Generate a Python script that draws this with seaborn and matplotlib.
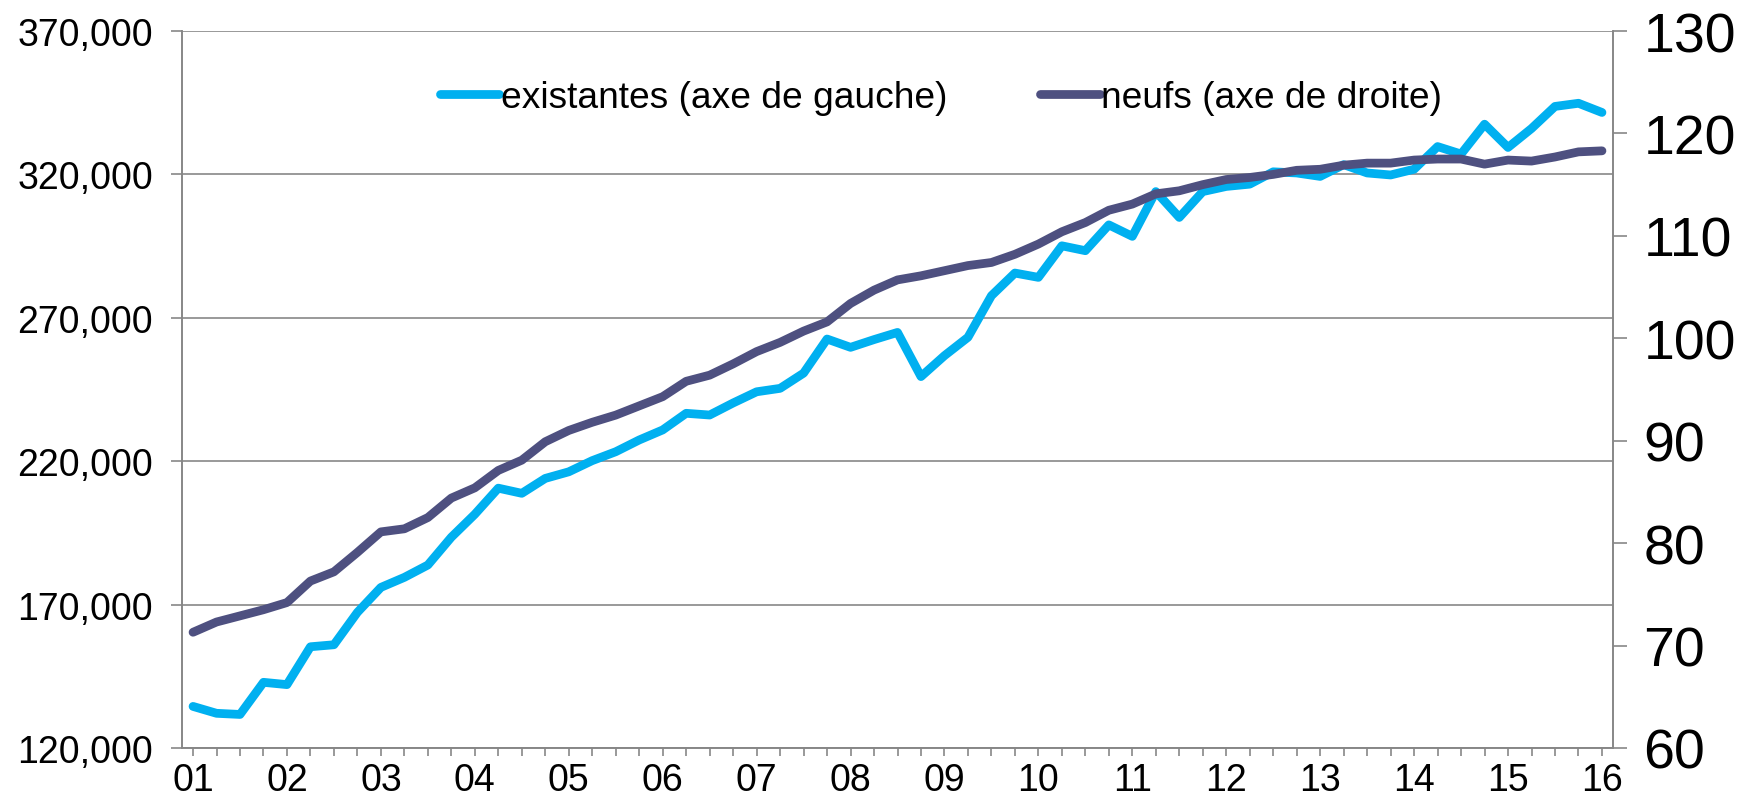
import pandas as pd
import numpy as np
import matplotlib
matplotlib.use("Agg")
import matplotlib.pyplot as plt
import seaborn as sns
from matplotlib.ticker import FuncFormatter

# quarterly series, 2001 Q1 -> 2016 Q1
existantes = [134.5, 132.1, 131.7, 142.9, 142.1, 155.3, 156.0, 167.3, 176.0, 179.5,
              183.8, 193.5, 201.5, 210.6, 208.8, 214.0, 216.3, 220.2, 223.3, 227.4,
              230.9, 236.7, 236.1, 240.3, 244.2, 245.4, 250.7, 262.6, 259.7, 262.4,
              264.9, 249.5, 256.8, 263.2, 277.7, 285.6, 284.1, 295.1, 293.4, 302.4,
              298.4, 314.0, 305.0, 314.0, 315.8, 316.6, 320.9, 320.5, 319.3, 323.4,
              320.5, 319.8, 321.8, 329.7, 327.1, 337.5, 329.4, 336.0, 343.7, 344.8,
              341.6]
existantes = [v * 1000 for v in existantes]

neufs = [71.3, 72.3, 72.9, 73.5, 74.2, 76.3, 77.2, 79.1, 81.1, 81.4,
         82.5, 84.4, 85.4, 87.1, 88.1, 89.9, 91.0, 91.8, 92.5, 93.4,
         94.3, 95.8, 96.4, 97.5, 98.7, 99.6, 100.7, 101.6, 103.4, 104.7,
         105.7, 106.1, 106.6, 107.1, 107.4, 108.2, 109.2, 110.4, 111.3, 112.5,
         113.1, 114.1, 114.4, 115.0, 115.5, 115.7, 116.0, 116.4, 116.5, 116.9,
         117.1, 117.1, 117.4, 117.5, 117.5, 117.0, 117.4, 117.3, 117.7, 118.2,
         118.3]

years = ["01", "02", "03", "04", "05", "06", "07", "08",
         "09", "10", "11", "12", "13", "14", "15", "16"]

left_ticks = [120000, 170000, 220000, 270000, 320000, 370000]
right_ticks = [60, 70, 80, 90, 100, 110, 120, 130]

df = pd.DataFrame({"q": np.arange(len(existantes)),
                   "existantes": existantes,
                   "neufs": neufs})

sns.set_style("white")
plt.rcParams["font.family"] = ["Liberation Sans", "DejaVu Sans"]
plt.rcParams["text.color"] = "black"
plt.rcParams["xtick.color"] = "black"
plt.rcParams["ytick.color"] = "black"

blue = "#00B0F0"
navy = "#4E5080"
gray = "#878787"

fig = plt.figure(figsize=(17.39, 8.03), dpi=100)
ax = fig.add_axes([182/1739, 1 - 749/803, (1613-182)/1739, (749-32)/803])
ax2 = ax.twinx()

sns.lineplot(data=df, x="q", y="existantes", ax=ax, color=blue, linewidth=6.3,
             label="existantes (axe de gauche)", legend=False)
sns.lineplot(data=df, x="q", y="neufs", ax=ax2, color=navy, linewidth=6.3,
             label="neufs (axe de droite)", legend=False)

ax.set_xlim(-0.47, len(existantes) - 1 + 0.47)
ax.set_ylim(120000, 370000)
ax2.set_ylim(60, 130)

ax.set_yticks(left_ticks)
ax.yaxis.set_major_formatter(FuncFormatter(lambda v, p: f"{int(v):,}"))
ax2.set_yticks(right_ticks)

xt = np.arange(len(existantes))
xl = [years[i // 4] if i % 4 == 0 else "" for i in xt]
ax.set_xticks(xt)
ax.set_xticklabels(xl)

ax.set_xlabel("")
ax.set_ylabel("")
ax2.set_xlabel("")
ax2.set_ylabel("")

ax.grid(axis="y", color=gray, linewidth=1.2)
ax.grid(axis="x", visible=False)
ax2.grid(False)

for a in (ax, ax2):
    a.spines["top"].set_visible(False)
    for s in ("left", "right", "bottom"):
        a.spines[s].set_color(gray)
        a.spines[s].set_linewidth(1.2)

ax.tick_params(axis="y", direction="out", length=8, width=1.2, color=gray,
               labelcolor="black", labelsize=27, pad=13, left=True)
ax.tick_params(axis="x", direction="out", length=6, width=1.2, color=gray,
               labelcolor="black", labelsize=27, pad=4, bottom=True)
ax2.tick_params(axis="y", direction="out", length=10, width=1.2, color=gray,
                labelcolor="black", labelsize=40, pad=12, right=True)

h1, l1 = ax.get_legend_handles_labels()
h2, l2 = ax2.get_legend_handles_labels()
leg = ax2.legend(h1 + h2, l1 + l2, loc="center left",
                 bbox_to_anchor=(440/1739, 1 - 98/803), bbox_transform=fig.transFigure,
                 ncol=2, frameon=False, fontsize=26.7, handlelength=1.6,
                 handletextpad=0.05, columnspacing=2.5, borderpad=0, borderaxespad=0)
for t in leg.get_texts():
    t.set_color("black")

fig.savefig("out.png", dpi=100)
